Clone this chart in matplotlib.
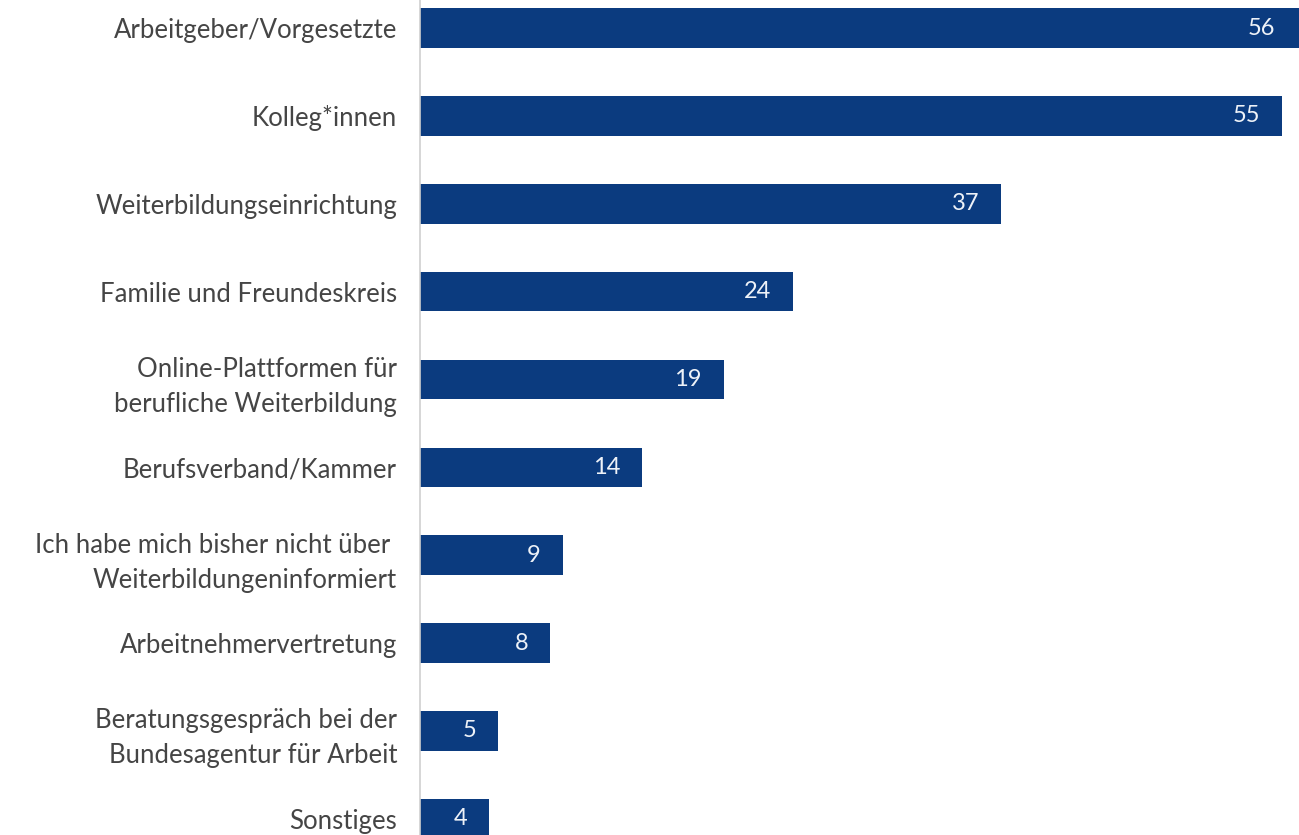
import matplotlib
matplotlib.use('Agg')
import matplotlib.pyplot as plt

categories = [
  'Arbeitgeber/Vorgesetzte',
  'Kolleg*innen',
  'Weiterbildungseinrichtung',
  'Familie und Freundeskreis',
  'Online-Plattformen für\nberufliche Weiterbildung',
  'Berufsverband/Kammer',
  'Ich habe mich bisher nicht über \nWeiterbildungeninformiert',
  'Arbeitnehmervertretung',
  'Beratungsgespräch bei der\nBundesagentur für Arbeit',
  'Sonstiges',
]
# bar lengths (labels are shown rounded)
values = [56.3, 55.0, 37.1, 23.8, 19.4, 14.2, 9.1, 8.3, 5.0, 4.4]

BAR_COLOR = '#0b3b7f'
W, H = 1299, 835

fig = plt.figure(figsize=(W / 100, H / 100), dpi=100)
ax = fig.add_axes([420 / W, 0, 1 - 420 / W, 1])

pos = list(range(len(values)))
ax.barh(pos, values, height=0.45, color=BAR_COLOR, zorder=2)

ax.set_xlim(0, 56.1)
ax.set_ylim(9.184, -0.32)

# value labels inside the bar ends
for y, v in zip(pos, values):
  end = min(v, 56.0)
  ax.annotate(f'{round(v)}', xy=(end, y), xytext=(-22, 0), textcoords='offset pixels',
              ha='right', va='center', color='#eef2f8', fontsize=17, family='Lato',
              annotation_clip=False)

ax.set_yticks(pos)
ax.set_yticklabels(categories, fontsize=18.5, color='#454545', family='Lato',
                   linespacing=1.5)
ax.tick_params(axis='y', length=0, pad=16.5)
ax.tick_params(axis='x', bottom=False, labelbottom=False)

for side in ('top', 'right', 'bottom'):
  ax.spines[side].set_visible(False)
ax.spines['left'].set_color('#cfcfcf')
ax.spines['left'].set_linewidth(1.2)

fig.savefig('out.png', dpi=100, facecolor='white')
